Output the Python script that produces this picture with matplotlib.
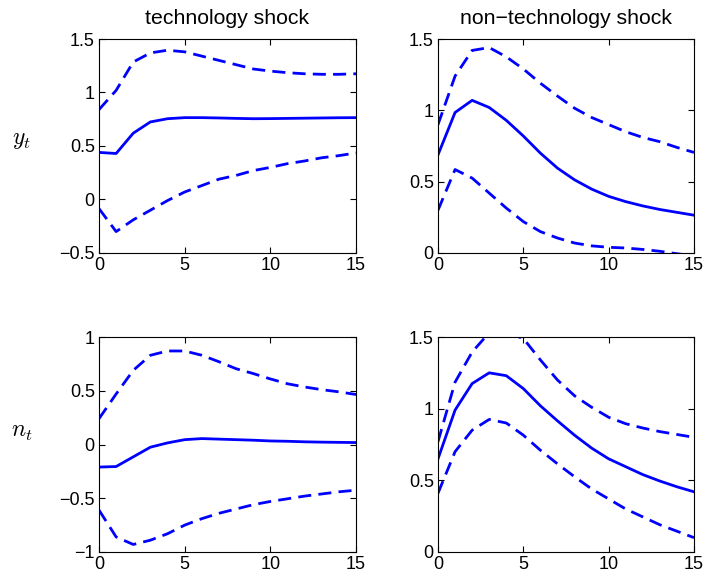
import matplotlib
matplotlib.use("Agg")
import matplotlib.pyplot as plt
import numpy as np

plt.rcParams['font.family'] = ['Liberation Sans', 'DejaVu Sans']
plt.rcParams['mathtext.fontset'] = 'cm'

horizon = list(range(16))

col_titles = ["technology shock", "non\u2212technology shock"]
row_labels = [r"$y_t$", r"$n_t$"]

# y_t, technology shock
y_tech_mid = [0.44, 0.43, 0.62, 0.725, 0.755, 0.765, 0.765, 0.762, 0.758, 0.755, 0.756, 0.758, 0.76, 0.762, 0.764, 0.765]
y_tech_up = [0.84, 1.02, 1.285, 1.37, 1.395, 1.38, 1.34, 1.30, 1.26, 1.22, 1.20, 1.185, 1.175, 1.17, 1.17, 1.175]
y_tech_lo = [-0.085, -0.30, -0.19, -0.10, -0.01, 0.07, 0.13, 0.19, 0.225, 0.27, 0.30, 0.335, 0.36, 0.39, 0.41, 0.435]

# y_t, non-technology shock
y_non_mid = [0.688, 0.985, 1.07, 1.02, 0.93, 0.82, 0.70, 0.595, 0.513, 0.448, 0.397, 0.36, 0.33, 0.305, 0.285, 0.265]
y_non_up = [0.90, 1.24, 1.42, 1.44, 1.375, 1.29, 1.19, 1.10, 1.015, 0.95, 0.90, 0.85, 0.81, 0.78, 0.74, 0.705]
y_non_lo = [0.30, 0.585, 0.525, 0.42, 0.315, 0.22, 0.15, 0.105, 0.07, 0.05, 0.04, 0.035, 0.025, 0.012, -0.005, -0.02]

# n_t, technology shock
n_tech_mid = [-0.21, -0.205, -0.115, -0.025, 0.015, 0.045, 0.055, 0.05, 0.045, 0.04, 0.033, 0.03, 0.025, 0.022, 0.02, 0.018]
n_tech_up = [0.24, 0.47, 0.69, 0.83, 0.87, 0.87, 0.83, 0.77, 0.705, 0.66, 0.61, 0.565, 0.535, 0.51, 0.49, 0.465]
n_tech_lo = [-0.61, -0.86, -0.93, -0.89, -0.83, -0.75, -0.69, -0.64, -0.60, -0.56, -0.53, -0.505, -0.48, -0.46, -0.44, -0.425]

# n_t, non-technology shock
n_non_mid = [0.65, 0.99, 1.175, 1.25, 1.23, 1.14, 1.02, 0.915, 0.815, 0.725, 0.65, 0.595, 0.54, 0.495, 0.455, 0.42]
n_non_up = [0.77, 1.185, 1.395, 1.53, 1.53, 1.49, 1.34, 1.20, 1.09, 1.01, 0.94, 0.895, 0.865, 0.84, 0.82, 0.80]
n_non_lo = [0.41, 0.70, 0.85, 0.925, 0.90, 0.815, 0.71, 0.615, 0.525, 0.44, 0.37, 0.30, 0.245, 0.19, 0.145, 0.10]

panels = [
    [(y_tech_mid, y_tech_up, y_tech_lo), (y_non_mid, y_non_up, y_non_lo)],
    [(n_tech_mid, n_tech_up, n_tech_lo), (n_non_mid, n_non_up, n_non_lo)],
]
ylims = [[(-0.5, 1.5), (0, 1.5)], [(-1, 1), (0, 1.5)]]
yticks = [[[-0.5, 0, 0.5, 1, 1.5], [0, 0.5, 1, 1.5]], [[-1, -0.5, 0, 0.5, 1], [0, 0.5, 1, 1.5]]]
ytick_labels = [[["\u22120.5", "0", "0.5", "1", "1.5"], ["0", "0.5", "1", "1.5"]],
                [["\u22121", "\u22120.5", "0", "0.5", "1"], ["0", "0.5", "1", "1.5"]]]
xticks = [0, 5, 10, 15]

W, H = 704, 581
fig = plt.figure(figsize=(W / 100, H / 100), dpi=100)

lefts = [99, 438]
widths = [257, 256]
tops = [39, 337]
heights = [214, 215]

blue = (0, 0, 1)
for r in range(2):
    for c in range(2):
        ax = fig.add_axes([lefts[c] / W, 1 - (tops[r] + heights[r]) / H, widths[c] / W, heights[r] / H])
        mid, up, lo = panels[r][c]
        ax.plot(horizon, mid, color=blue, lw=2)
        ax.plot(horizon, up, color=blue, lw=2, dashes=(4.7, 2.6))
        ax.plot(horizon, lo, color=blue, lw=2, dashes=(4.7, 2.6))
        ax.set_xlim(0, 15)
        ax.set_ylim(*ylims[r][c])
        ax.set_xticks(xticks)
        ax.set_xticklabels([str(v) for v in xticks])
        ax.set_yticks(yticks[r][c])
        ax.set_yticklabels(ytick_labels[r][c])
        ax.tick_params(direction='in', top=True, right=True, length=4, width=0.8,
                       labelsize=13, pad=3)
        for s in ax.spines.values():
            s.set_linewidth(0.8)
        if r == 0:
            ax.set_title(col_titles[c], fontsize=15.3, pad=10.5)

fig.text(22 / W, 1 - 140 / H, row_labels[0], fontsize=17, ha='center', va='center')
fig.text(22 / W, 1 - 432 / H, row_labels[1], fontsize=17, ha='center', va='center')

fig.savefig("out.png", dpi=100)
